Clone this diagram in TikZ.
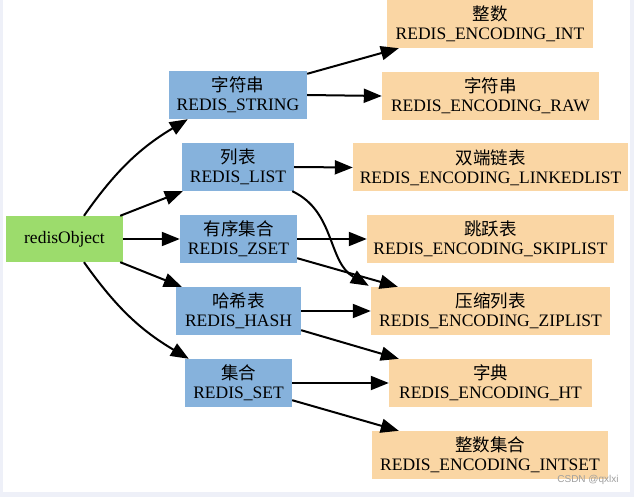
\documentclass[tikz,border=0pt]{standalone}
\usepackage{fontspec}
\setmainfont{Liberation Serif}
\newfontfamily\cjk{Noto Sans CJK SC}
\newfontfamily\wmfont{Liberation Sans}
\usetikzlibrary{arrows.meta,calc}
\definecolor{objgreen}{RGB}{156,220,108}
\definecolor{typeblue}{RGB}{134,178,220}
\definecolor{encorange}{RGB}{250,214,164}
\definecolor{frameblue}{RGB}{238,240,248}
\begin{document}
\begin{tikzpicture}[x=1pt,y=-1pt,
  box/.style={draw=none, inner sep=0pt, align=center, font=\fontsize{17.5}{19}\selectfont},
  objbox/.style={box, fill=objgreen, minimum height=46pt},
  typbox/.style={box, fill=typeblue, minimum height=48pt},
  encbox/.style={box, fill=encorange, minimum height=48pt},
  link/.style={line width=2pt, -{Triangle[length=18pt 0 0,width=14pt 0 0]}}]
\useasboundingbox (0,0) rectangle (634,497);
\fill[frameblue] (0,0) rectangle (634,497);
\fill[white] (3,0) rectangle (630,492);

\node[objbox, minimum width=117pt] (obj) at (64.5,239) {redisObject};

\node[typbox, minimum width=138pt] (str)  at (238,95)    {{\cjk 字符串}\\REDIS\_STRING};
\node[typbox, minimum width=112pt] (lst)  at (238,167)   {{\cjk 列表}\\REDIS\_LIST};
\node[typbox, minimum width=117pt] (zset) at (238.5,239) {{\cjk 有序集合}\\REDIS\_ZSET};
\node[typbox, minimum width=125pt] (hash) at (238.5,311) {{\cjk 哈希表}\\REDIS\_HASH};
\node[typbox, minimum width=107pt] (set)  at (238.5,383) {{\cjk 集合}\\REDIS\_SET};

\node[encbox, minimum width=206pt] (int)    at (490,24)    {{\cjk 整数}\\REDIS\_ENCODING\_INT};
\node[encbox, minimum width=217pt] (raw)    at (490.5,96)  {{\cjk 字符串}\\REDIS\_ENCODING\_RAW};
\node[encbox, minimum width=275pt] (linked) at (490.5,167.5) {{\cjk 双端链表}\\REDIS\_ENCODING\_LINKEDLIST};
\node[encbox, minimum width=247pt] (skip)   at (490.5,239) {{\cjk 跳跃表}\\REDIS\_ENCODING\_SKIPLIST};
\node[encbox, minimum width=239pt] (zip)    at (490.5,311) {{\cjk 压缩列表}\\REDIS\_ENCODING\_ZIPLIST};
\node[encbox, minimum width=203pt] (ht)     at (490.5,383) {{\cjk 字典}\\REDIS\_ENCODING\_HT};
\node[encbox, minimum width=236pt] (intset) at (490,455)   {{\cjk 整数集合}\\REDIS\_ENCODING\_INTSET};

\node[font=\wmfont\fontsize{10}{12}\selectfont, text=gray!75] (wm) at (588,480) {CSDN @qxlxi};

% redisObject to types
\draw[link] ($(obj.north)+(19.5,0)$) to[bend left=12] ($(str.south west)+(19,0)$);
\draw[link] ($(obj.north east)+(-3,0)$) -- ($(lst.south west)+(1,0)$);
\draw[link] (obj.east) -- (zset.west);
\draw[link] ($(obj.south east)+(-3,0)$) -- ($(hash.north west)+(6,0)$);
\draw[link] ($(obj.south)+(19.5,0)$) to[bend right=12] ($(set.north west)+(4,0)$);

% types to encodings
\draw[link] ($(str.north east)+(0,3)$) -- ($(int.south west)+(12,0)$);
\draw[link] (str.east) -- (raw.west);
\draw[link] (lst.east) -- (linked.west);
\draw[link] ($(lst.south east)+(-2,0)$) to[out=-25,in=150] ($(zip.north west)+(-2,-1)$);
\draw[link] (zset.east) -- (skip.west);
\draw[link] ($(zset.south east)+(0,-5)$) -- ($(zip.north west)+(27,0)$);
\draw[link] (hash.east) -- (zip.west);
\draw[link] ($(hash.south east)+(0,-5)$) -- ($(ht.north west)+(10,0)$);
\draw[link] (set.east) -- (ht.west);
\draw[link] ($(set.south east)+(0,-7)$) -- ($(intset.north west)+(27,0)$);
\end{tikzpicture}
\end{document}
